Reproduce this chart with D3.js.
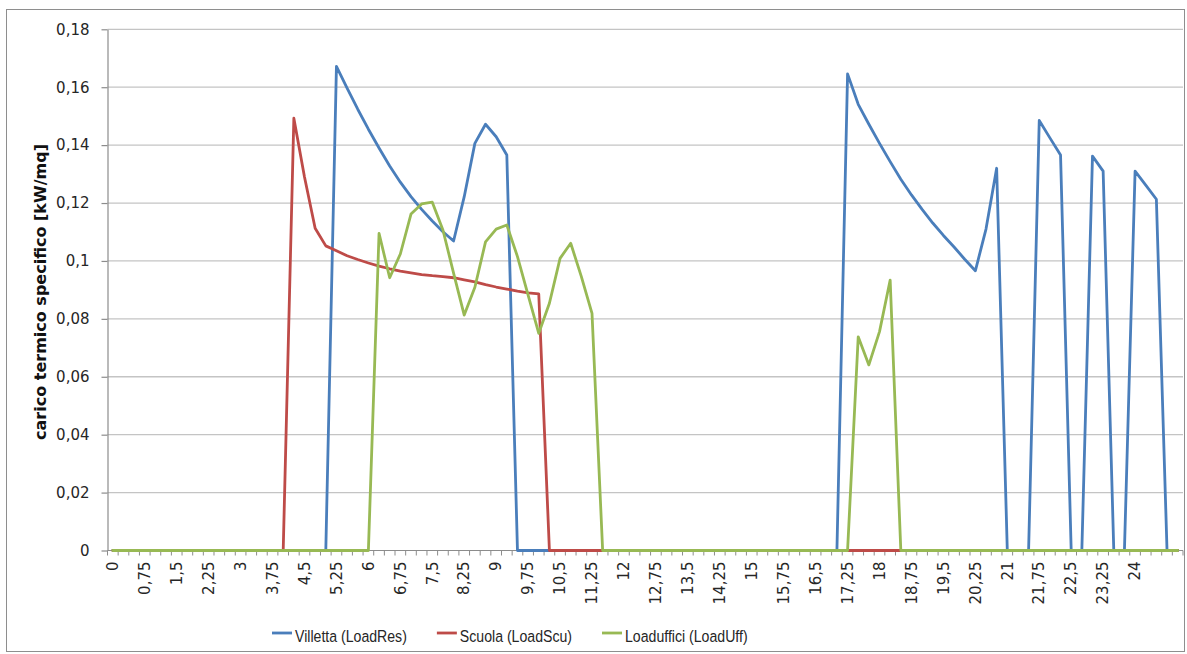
<!DOCTYPE html>
<html>
<head>
<meta charset="utf-8">
<script src="https://cdn.jsdelivr.net/npm/d3@7"></script>
<style>
  html, body { margin: 0; padding: 0; background: #fff; }
  svg { display: block; font-family: "DejaVu Sans", sans-serif; }
</style>
</head>
<body>
<svg id="chart" width="1187" height="654"></svg>
<script>
// Quarter-hour time steps (h)
const hours = [
  0, 0.25, 0.5, 0.75, 1, 1.25, 1.5, 1.75, 2, 2.25, 2.5, 2.75, 3, 3.25, 3.5, 3.75,
  4, 4.25, 4.5, 4.75, 5, 5.25, 5.5, 5.75, 6, 6.25, 6.5, 6.75, 7, 7.25, 7.5, 7.75,
  8, 8.25, 8.5, 8.75, 9, 9.25, 9.5, 9.75, 10, 10.25, 10.5, 10.75, 11, 11.25, 11.5, 11.75,
  12, 12.25, 12.5, 12.75, 13, 13.25, 13.5, 13.75, 14, 14.25, 14.5, 14.75, 15, 15.25, 15.5, 15.75,
  16, 16.25, 16.5, 16.75, 17, 17.25, 17.5, 17.75, 18, 18.25, 18.5, 18.75, 19, 19.25, 19.5, 19.75,
  20, 20.25, 20.5, 20.75, 21, 21.25, 21.5, 21.75, 22, 22.25, 22.5, 22.75, 23, 23.25, 23.5, 23.75,
  24, 24.25, 24.5, 24.75, 25
];

// Specific thermal load, kW/mq
const villetta = [
  0, 0, 0, 0, 0, 0, 0, 0, 0, 0, 0, 0, 0, 0, 0, 0,
  0, 0, 0, 0, 0, 0.1672, 0.1597, 0.1524, 0.1455, 0.1390, 0.1328, 0.1272, 0.1222, 0.1178, 0.1138, 0.1101,
  0.1069, 0.1222, 0.1406, 0.1472, 0.1429, 0.1366, 0, 0, 0, 0, 0, 0, 0, 0, 0, 0,
  0, 0, 0, 0, 0, 0, 0, 0, 0, 0, 0, 0, 0, 0, 0, 0,
  0, 0, 0, 0, 0, 0.1646, 0.1541, 0.1472, 0.1406, 0.1343, 0.1282, 0.1228, 0.1178, 0.1131, 0.1088, 0.1048,
  0.1006, 0.0966, 0.1110, 0.1320, 0, 0, 0, 0.1485, 0.1425, 0.1366, 0, 0, 0.1362, 0.1310, 0, 0,
  0.1310, 0.1262, 0.1213, 0, 0
];

const scuola = [
  0, 0, 0, 0, 0, 0, 0, 0, 0, 0, 0, 0, 0, 0, 0, 0,
  0, 0.1493, 0.1290, 0.1113, 0.1052, 0.1035, 0.1018, 0.1005, 0.0993, 0.0982, 0.0973, 0.0965, 0.0959, 0.0953, 0.0949, 0.0946,
  0.0942, 0.0935, 0.0928, 0.0918, 0.0910, 0.0903, 0.0896, 0.0890, 0.0886, 0, 0, 0, 0, 0, 0, 0,
  0, 0, 0, 0, 0, 0, 0, 0, 0, 0, 0, 0, 0, 0, 0, 0,
  0, 0, 0, 0, 0, 0, 0, 0, 0, 0, 0, 0, 0, 0, 0, 0,
  0, 0, 0, 0, 0, 0, 0, 0, 0, 0, 0, 0, 0, 0, 0, 0,
  0, 0, 0, 0, 0
];

const uffici = [
  0, 0, 0, 0, 0, 0, 0, 0, 0, 0, 0, 0, 0, 0, 0, 0,
  0, 0, 0, 0, 0, 0, 0, 0, 0, 0.1095, 0.0942, 0.1024, 0.1162, 0.1197, 0.1203, 0.1107,
  0.0958, 0.0813, 0.0909, 0.1066, 0.1110, 0.1124, 0.1015, 0.0882, 0.0750, 0.0854, 0.1009, 0.1061, 0.0946, 0.0819, 0, 0,
  0, 0, 0, 0, 0, 0, 0, 0, 0, 0, 0, 0, 0, 0, 0, 0,
  0, 0, 0, 0, 0, 0, 0.0738, 0.0641, 0.0756, 0.0934, 0, 0, 0, 0, 0, 0,
  0, 0, 0, 0, 0, 0, 0, 0, 0, 0, 0, 0, 0, 0, 0, 0,
  0, 0, 0, 0, 0
];

const seriesNames = ["Villetta (LoadRes)", "Scuola (LoadScu)", "Loaduffici (LoadUff)"];
const seriesColors = ["#4A7EBB", "#BE4B48", "#98B954"];
const yTicks = [0, 0.02, 0.04, 0.06, 0.08, 0.1, 0.12, 0.14, 0.16, 0.18];
const yTitle = "carico termico specifico [kW/mq]";
const labelEvery = 3;      // one category label every 3 steps
const lastLabelHour = 24;

const series = [villetta, scuola, uffici];

const svg = d3.select("#chart");
const plot = { left: 107.5, right: 1183, top: 29.3, bottom: 550.5 };

const itFormat = d3.formatLocale({ decimal: ",", thousands: ".", grouping: [3], currency: ["", " €"] });
const fmtNum = itFormat.format(".2~f");

const x = d3.scaleBand()
  .domain(d3.range(hours.length))
  .range([plot.left, plot.right])
  .paddingInner(0).paddingOuter(0);
const y = d3.scaleLinear().domain([0, 0.18]).range([plot.bottom, plot.top]);
const cx = i => x(i) + x.bandwidth() / 2;

// chart area frame
svg.append("rect")
  .attr("x", 6.5).attr("y", 9.5)
  .attr("width", 1178).attr("height", 642)
  .attr("fill", "#fff").attr("stroke", "#8e8e8e").attr("stroke-width", 1);

// horizontal gridlines
svg.append("g")
  .selectAll("line")
  .data(yTicks.filter(v => v > 0))
  .join("line")
  .attr("x1", plot.left).attr("x2", plot.right)
  .attr("y1", d => y(d)).attr("y2", d => y(d))
  .attr("stroke", "#c4c4c4").attr("stroke-width", 1.3);

// y axis
const yAxis = svg.append("g")
  .attr("transform", `translate(${plot.left},0)`)
  .call(d3.axisLeft(y).tickValues(yTicks).tickFormat(fmtNum).tickSize(6).tickSizeOuter(0).tickPadding(12));
yAxis.select(".domain").attr("stroke", "#8c8c8c").attr("stroke-width", 1.2);
yAxis.selectAll(".tick line").attr("stroke", "#8c8c8c").attr("stroke-width", 1.2);
yAxis.selectAll(".tick text")
  .attr("fill", "#262626").style("font-size", "15px").style("font-family", "'DejaVu Sans', sans-serif");

// x axis: baseline, a tick mark at every category boundary, labels every 3 steps
const xAxis = svg.append("g").attr("class", "x-axis");
xAxis.append("line")
  .attr("x1", plot.left).attr("x2", plot.right)
  .attr("y1", plot.bottom).attr("y2", plot.bottom)
  .attr("stroke", "#8c8c8c").attr("stroke-width", 1.2);
const edges = d3.range(hours.length + 1).map(i => i < hours.length ? x(i) : x(i - 1) + x.bandwidth());
xAxis.selectAll("line.tk")
  .data(edges)
  .join("line").attr("class", "tk")
  .attr("x1", d => d).attr("x2", d => d)
  .attr("y1", plot.bottom).attr("y2", plot.bottom + 5)
  .attr("stroke", "#8c8c8c").attr("stroke-width", 1);
const labelIdx = d3.range(hours.length).filter(i => i % labelEvery === 0 && hours[i] <= lastLabelHour);
xAxis.selectAll("text")
  .data(labelIdx)
  .join("text")
  .attr("transform", i => `translate(${cx(i)},${plot.bottom + 11}) rotate(-90)`)
  .attr("text-anchor", "end")
  .attr("dy", "0.35em")
  .attr("fill", "#262626")
  .style("font-size", "15px")
  .text(i => fmtNum(hours[i]));

// y axis title
svg.append("text")
  .attr("transform", `translate(46,292) rotate(-90)`)
  .attr("text-anchor", "middle")
  .attr("fill", "#111")
  .style("font-size", "16px").style("font-weight", "bold")
  .text(yTitle);

// series lines
const line = d3.line().x((d, i) => cx(i)).y(d => y(d));
svg.append("g")
  .selectAll("path")
  .data(series)
  .join("path")
  .attr("d", line)
  .attr("fill", "none")
  .attr("stroke", (d, i) => seriesColors[i])
  .attr("stroke-width", 2.8)
  .attr("stroke-linejoin", "round")
  .attr("stroke-linecap", "round");

// legend: tall, narrow lettering (horizontally compressed so the first entry spans ~112px)
const legendFont = "'Liberation Sans', sans-serif";
const legendSize = 17;
const probe = svg.append("text").style("font-family", legendFont).style("font-size", legendSize + "px").text(seriesNames[0]);
const squeeze = 112 / probe.node().getComputedTextLength();
probe.remove();

const legend = svg.append("g").attr("transform", "translate(272,633)");
let lx = 0;
seriesNames.forEach((name, i) => {
  const g = legend.append("g").attr("transform", `translate(${lx},0)`);
  g.append("line").attr("x1", 0).attr("x2", 20).attr("y1", 0).attr("y2", 0)
    .attr("stroke", seriesColors[i]).attr("stroke-width", 2.8);
  const t = g.append("text")
    .attr("transform", `translate(23,8.5) scale(${squeeze},1)`)
    .attr("fill", "#262626").style("font-size", legendSize + "px").style("font-family", legendFont)
    .text(name);
  lx += 23 + t.node().getComputedTextLength() * squeeze + 30;
});
</script>
</body>
</html>
